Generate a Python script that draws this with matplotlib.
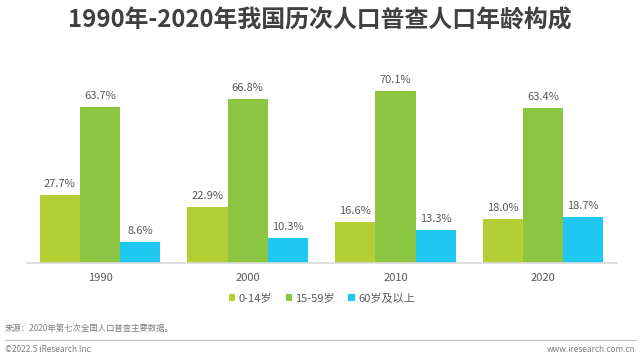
import numpy as np
import matplotlib.pyplot as plt
from matplotlib.lines import Line2D

plt.rcParams['font.family'] = ['Noto Sans CJK SC', 'DejaVu Sans']

# ---------- Data ----------
years = ['1990', '2000', '2010', '2020']
age_0_14 = [27.7, 22.9, 16.6, 18.0]
age_15_59 = [63.7, 66.8, 70.1, 63.4]
age_60_plus = [8.6, 10.3, 13.3, 18.7]
series_names = ['0-14岁', '15-59岁', '60岁及以上']
colors = ['#b3cf35', '#8cc540', '#1ec8f0']

title = '1990年-2020年我国历次人口普查人口年龄构成'
source = '来源：2020年第七次全国人口普查主要数据。'

# ---------- Plot ----------
fig = plt.figure(figsize=(6.4, 3.6), dpi=100)
ax = fig.add_axes([27 / 640, 1 - 263 / 360, 590 / 640, 196 / 360])

x = np.arange(len(years))
w = 0.272
label_color = '#595959'
for i, (vals, c) in enumerate(zip([age_0_14, age_15_59, age_60_plus], colors)):
    bars = ax.bar(x + (i - 1) * w, vals, width=w, color=c, label=series_names[i])
    for b, v in zip(bars, vals):
        ax.text(b.get_x() + b.get_width() / 2, v + 2.5, f'{v:.1f}%',
                ha='center', va='bottom', fontsize=8, color=label_color)

ax.set_xlim(-0.494, 3.5)
ax.set_ylim(0, 80)
ax.set_yticks([])
ax.set_xticks(x)
ax.set_xticklabels(years, fontsize=8, color=label_color)
ax.tick_params(axis='x', length=0, pad=7)
for s in ['top', 'right', 'left']:
    ax.spines[s].set_visible(False)
ax.spines['bottom'].set_color('#d9d9d9')
ax.spines['bottom'].set_linewidth(1.2)

leg = ax.legend(loc='center', bbox_to_anchor=(0.5, -0.18), ncol=3, frameon=False,
                fontsize=8, handlelength=0.6, handleheight=0.6,
                handletextpad=0.3, columnspacing=1.2)
for t in leg.get_texts():
    t.set_color(label_color)

fig.text(0.5, 1 - 21 / 360, title, ha='center', va='center',
         fontsize=17.2, fontweight='bold', color='#404040')
fig.text(5 / 640, 1 - 328 / 360, source, ha='left', va='center',
         fontsize=6, color='#7f7f7f')
fig.add_artist(Line2D([5 / 640, 636 / 640], [1 - 340 / 360] * 2,
                      color='#bfbfbf', linewidth=0.8))
fig.text(5 / 640, 1 - 350 / 360, '©2022.5 iResearch Inc.', ha='left', va='center',
         fontsize=6, color='#7f7f7f')
fig.text(636 / 640, 1 - 350 / 360, 'www.iresearch.com.cn', ha='right', va='center',
         fontsize=6, color='#7f7f7f')

fig.savefig('out.png', dpi=100, facecolor='white')
